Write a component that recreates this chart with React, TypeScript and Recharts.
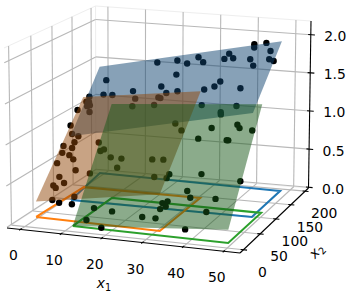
import React from 'react';
import { ScatterChart, Scatter, XAxis, YAxis } from 'recharts';

const x1Ticks = [0, 10, 20, 30, 40, 50];
const x2Ticks = [0, 50, 100, 150, 200];
const zTicks = [0, 0.5, 1, 1.5, 2];
const zTickLabels = ['0.0', '0.5', '1.0', '1.5', '2.0'];

const blueX1 = [39.8,40.1,43.0,45.2,45.9,47.3,40.6,42.2,33.9,35.7,33.3,27.8,25.7,35.2,34.2,31.8,41.6,14.8,20.2,23.4,21.9,19.4,12.3,21.8,24.6,13.9,20.2,20.9,3.0,0.9,4.5,7.0];
const blueX2 = [202,198,202,188,175,172,179,169,193,184,185,184,194,150,144,141,136,194,193,186,171,155,152,143,144,141,138,136,176,152,153,151];
const blueY = [1.85,1.82,1.88,1.82,1.75,1.74,1.72,1.67,1.73,1.70,1.68,1.62,1.65,1.49,1.44,1.40,1.47,1.54,1.59,1.58,1.47,1.35,1.27,1.31,1.34,1.21,1.26,1.26,1.31,1.15,1.19,1.20];

const orangeX1 = [1.6,2.4,2.3,2.9,3.6,0.1,0.0,1.5,3.4,3.0,0.5,3.1,1.0,3.1,4.6,0.7,6.4,2.9,4.9,2.3,3.1,10.6,9.0,3.7,5.8,9.3];
const orangeX2 = [137,136,132,133,125,129,112,101,98,92,89,85,81,78,73,71,61,55,47,46,44,55,32,30,26,23];
const orangeY = [1.13,1.13,1.09,1.10,1.04,1.04,0.89,0.82,0.81,0.75,0.70,0.70,0.64,0.63,0.60,0.54,0.51,0.43,0.39,0.35,0.33,0.51,0.29,0.23,0.22,0.23];

const greenX1 = [33.6,42.6,39.0,39.2,37.9,44.2,45.0,48.4,35.2,43.0,42.6,28.2,30.3,15.8,21.4,25.1,27.9,30.5,30.1,27.0,38.6,48.9,36.3,37.5,43.9,42.5,38.5,30.8,31.0,32.1,32.0,27.0,30.3,14.3,19.0,13.3,17.6,16.9,14.4,17.2,11.3,12.1,10.2];
const greenX2 = [113,112,107,105,93,96,93,91,85,83,83,98,92,113,113,68,68,56,53,53,56,50,42,37,36,26,12,28,32,34,30,21,21,28,26,19,13,61,70,69,75,76,82];
const greenY = [1.29,1.32,1.24,1.22,1.08,1.14,1.11,1.10,0.96,0.98,0.98,1.08,1.02,1.20,1.24,0.71,0.72,0.59,0.55,0.55,0.63,0.61,0.46,0.40,0.42,0.29,0.11,0.26,0.32,0.34,0.29,0.17,0.17,0.19,0.18,0.07,0.02,0.59,0.68,0.68,0.73,0.75,0.81];

const blueRectX1 = [1.7,48.1,48.0,-1.0];
const blueRectX2 = [95,96.4,190.3,199.2];
const bluePlaneY = [0.81,1.30,1.95,1.41];
const orangeRectX1 = [-0.4,30.9,30.8,0.2];
const orangeRectX2 = [30,26,142,143];
const orangePlaneY = [0.19,0.45,1.37,1.17];
const greenRectX1 = [10.4,49.2,49.2,10.3];
const greenRectX2 = [14,12,112,115];
const greenPlaneY = [0,0.16,1.37,1.20];

// Axes box limits and the view of the box on the picture.
const xMin = -3.3, xMax = 54, yMin = -10, yMax = 212, zMin = -0.01, zMax = 2.18;
const floorFrontLeft = [7, 228], floorFrontRight = [240, 253], floorBackRight = [308.5, 188], floorBackLeft = [96, 170];
const topFrontLeft = [4, 48], topFrontRight = [242, 69], topBackRight = [311, 21], topBackLeft = [95.5, 6];
const depthRatio = 1.12;

const lerp = (p: number[], q: number[], t: number) => [p[0] + (q[0] - p[0]) * t, p[1] + (q[1] - p[1]) * t];
function project(x: number, y: number, z: number) {
  const tx = (x - xMin) / (xMax - xMin);
  let ty = (y - yMin) / (yMax - yMin);
  ty = (ty * depthRatio) / (1 - ty + ty * depthRatio);
  const tz = (z - zMin) / (zMax - zMin);
  const f0 = lerp(floorFrontLeft, floorFrontRight, tx);
  const b0 = lerp(floorBackLeft, floorBackRight, tx);
  const f1 = lerp(topFrontLeft, topFrontRight, tx);
  const b1 = lerp(topBackLeft, topBackRight, tx);
  const p = lerp(lerp(f0, b0, ty), lerp(f1, b1, ty), tz);
  return { x: p[0], y: p[1] };
}

const noMark = () => <g />;
const dotsLayer = (props: any) => (
  <g>{props.points.map((pt: any, i: number) => <circle key={i} cx={pt.x} cy={pt.y} r={3.2} fill="#000" />)}</g>
);

let keyCounter = 0;
const path = (pts: { x: number; y: number }[], stroke: string, width: number) => (
  <Scatter key={`l${keyCounter++}`} data={pts} shape={noMark} isAnimationActive={false}
    line={{ stroke, strokeWidth: width, fill: 'none' }} lineType="joint" />
);
const seg = (a: number[], b: number[], stroke: string, width: number) =>
  path([project(a[0], a[1], a[2]), project(b[0], b[1], b[2])], stroke, width);

const GRID = '#b8b8b8';
const PANE = '#eeeeee';
const FONT = '"DejaVu Sans", sans-serif';

const tickShape = (dx: number, dy: number, anchor: string) => (props: any) => (
  <text x={props.cx + dx} y={props.cy + dy} textAnchor={anchor} dominantBaseline="central"
    fontFamily={FONT} fontSize={13.9} fill="#000">{props.payload.label}</text>
);
const x1TickShape = tickShape(-7, 26, 'middle');
const x2TickShape = tickShape(19, 22, 'middle');
const zTickShape = tickShape(13.5, 1.5, 'start');

const x1LabelShape = (props: any) => (
  <text x={props.cx - 18} y={props.cy + 48} fontFamily={FONT} fontSize={13.9} fontStyle="italic" textAnchor="middle" fill="#000">
    x<tspan dy={3} fontSize={9.7} fontStyle="normal">1</tspan>
  </text>
);
const x2LabelShape = (props: any) => {
  const px = props.cx + 44, py = props.cy + 35;
  return (
    <text x={px} y={py} transform={`rotate(-48 ${px} ${py})`} fontFamily={FONT} fontSize={13.9} fontStyle="italic" textAnchor="middle" fill="#000">
      x<tspan dy={3} fontSize={9.7} fontStyle="normal">2</tspan>
    </text>
  );
};

const polygon = (xs: number[], ys: number[], zs: number[], fill: string) => (
  <Scatter key={`p${fill}`} data={xs.map((v, i) => project(v, ys[i], zs[i]))} shape={noMark} isAnimationActive={false}
    line={{ fill, fillOpacity: 0.5, stroke: 'none' }} lineType="joint" />
);
const outline = (xs: number[], ys: number[], stroke: string) =>
  path([...xs, xs[0]].map((v, i) => project(v, [...ys, ys[0]][i], 0)), stroke, 2.1);
const dots = (xs: number[], ys: number[], zs: number[], k: string) => (
  <Scatter key={k} data={xs.map((v, i) => project(v, ys[i], zs[i]))} shape={noMark} line={dotsLayer} lineType="joint" isAnimationActive={false} />
);

export default function App() {
  keyCounter = 0;
  return (
    <div style={{ position: 'absolute', left: 0, top: 0 }}>
      <ScatterChart width={350} height={295} margin={{ top: 0, right: 0, bottom: 0, left: 0 }}>
        <XAxis type="number" dataKey="x" domain={[0, 350]} hide allowDataOverflow />
        <YAxis type="number" dataKey="y" domain={[0, 295]} reversed hide allowDataOverflow />

        {seg([xMin, yMin, zMax], [xMin, yMax, zMax], PANE, 1)}
        {seg([xMin, yMax, zMax], [xMax, yMax, zMax], PANE, 1)}
        {seg([xMin, yMax, zMin], [xMin, yMax, zMax], PANE, 1)}
        {seg([xMax, yMax, zMin], [xMin, yMax, zMin], PANE, 1)}
        {seg([xMin, yMin, zMin], [xMin, yMax, zMin], PANE, 1)}

        {zTicks.map((z) => seg([xMin, yMin, z], [xMin, yMax, z], GRID, 1.1))}
        {zTicks.map((z) => seg([xMin, yMax, z], [xMax, yMax, z], GRID, 1.1))}
        {x2Ticks.map((y) => seg([xMin, y, zMin], [xMin, y, zMax], GRID, 1.1))}
        {x1Ticks.map((x) => seg([x, yMax, zMin], [x, yMax, zMax], GRID, 1.1))}
        {x1Ticks.map((x) => seg([x, yMin, zMin], [x, yMax, zMin], GRID, 1.1))}
        {x2Ticks.map((y) => seg([xMin, y, zMin], [xMax, y, zMin], GRID, 1.1))}

        {seg([xMin, yMin, zMin], [xMax, yMin, zMin], '#000', 1.1)}
        {seg([xMax, yMin, zMin], [xMax, yMax, zMin], '#000', 1.1)}
        {seg([xMax, yMax, zMin], [xMax, yMax, zMax], '#000', 1.1)}
        {x1Ticks.map((x) => seg([x, yMin + 3, zMin], [x, yMin - 3, zMin], '#000', 1.1))}
        {x2Ticks.map((y) => seg([xMax - 0.7, y, zMin], [xMax + 0.9, y, zMin], '#000', 1.1))}
        {zTicks.map((z) => seg([xMax - 0.7, yMax, z], [xMax + 1.1, yMax, z], '#000', 1.1))}

        {outline(blueRectX1, blueRectX2, '#1f77b4')}
        {outline(orangeRectX1, orangeRectX2, '#ff7f0e')}
        {outline(greenRectX1, greenRectX2, '#2ca02c')}

        {dots(blueX1, blueX2, blueY, 'd0')}
        {dots(orangeX1, orangeX2, orangeY, 'd1')}
        {dots(greenX1, greenX2, greenY, 'd2')}

        {polygon(blueRectX1, blueRectX2, bluePlaneY, '#0f4470')}
        {polygon(orangeRectX1, orangeRectX2, orangePlaneY, '#91480a')}
        {polygon(greenRectX1, greenRectX2, greenPlaneY, '#185818')}

        <Scatter data={x1Ticks.map((v) => ({ ...project(v, yMin, zMin), label: String(v) }))} shape={x1TickShape} isAnimationActive={false} />
        <Scatter data={x2Ticks.map((v) => ({ ...project(xMax, v, zMin), label: String(v) }))} shape={x2TickShape} isAnimationActive={false} />
        <Scatter data={zTicks.map((v, i) => ({ ...project(xMax, yMax, v), label: zTickLabels[i] }))} shape={zTickShape} isAnimationActive={false} />
        <Scatter data={[project(25, yMin, zMin)]} shape={x1LabelShape} isAnimationActive={false} />
        <Scatter data={[project(xMax, 100, zMin)]} shape={x2LabelShape} isAnimationActive={false} />
      </ScatterChart>
    </div>
  );
}
